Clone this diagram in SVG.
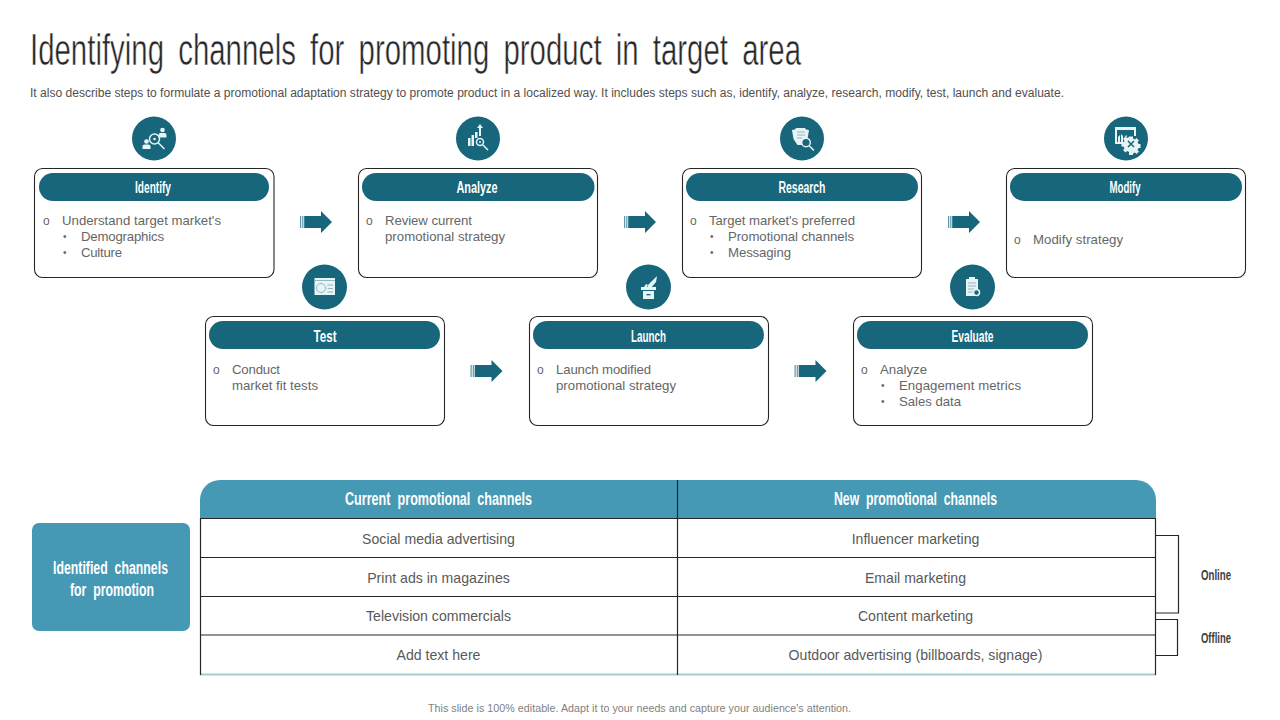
<svg xmlns="http://www.w3.org/2000/svg" width="1280" height="720" viewBox="0 0 1280 720">
<defs>
<style>
text{font-family:"Liberation Sans",Arial,sans-serif}
.title{font-size:44px;fill:#262626;word-spacing:9px;stroke:#fff;stroke-width:.55px;paint-order:normal}
.sub{font-size:12px;fill:#505050}
.foot{font-size:10.7px;fill:#7f7f7f}
.box{fill:#fff;stroke:#262626;stroke-width:1.100}
.pill{fill:#17667c}
.circ{fill:#17667c}
.h{font-size:16px;font-weight:700;fill:#fff;text-anchor:middle}
.b{font-size:13.200px;fill:#666}
.m{font-size:12px;fill:#666}
.d{font-size:10px;fill:#666}
.ic{fill:#e8f3f5}
.ics{fill:none;stroke:#e8f3f5;stroke-width:1.500}
.icd{stroke:#8fb8c4;stroke-width:1;fill:none}
.hd{font-size:18px;font-weight:700;fill:#fff;text-anchor:middle;word-spacing:5px}
.c{font-size:14.100px;fill:#595959;text-anchor:middle}
.ln{stroke:#262626;stroke-width:1.200;fill:none}
.side{font-size:14px;font-weight:700;fill:#404040;text-anchor:middle}
</style>
<g id="arrow">
<path d="M0 -6H1.200V6H0Z" fill="#5d97a8"/>
<path d="M2.200 -6H3.400V6H2.200Z" fill="#5d97a8"/>
<path d="M4.200 -6H21V-11L32 0L21 11V6H4.200Z" fill="#17667c"/>
</g>
</defs>
<rect width="1280" height="720" fill="#fff"/>
<text class="title" x="30" y="64.500" textLength="771" lengthAdjust="spacingAndGlyphs">Identifying channels for promoting product in target area</text>
<text class="sub" x="30" y="97" textLength="1034" lengthAdjust="spacingAndGlyphs">It also describe steps to formulate a promotional adaptation strategy to promote product in  a localized way. It includes steps such as, identify, analyze, research, modify, test, launch and evaluate.</text>

<g id="connectors">
<use href="#arrow" x="300" y="222"/>
<use href="#arrow" x="624" y="222"/>
<use href="#arrow" x="948" y="222"/>
<use href="#arrow" x="470.500" y="371"/>
<use href="#arrow" x="794.500" y="371"/>
<path class="ln" d="M1156 535.500H1178.500V613H1156"/>
<path class="ln" d="M1156 619.500H1177.500V655.500H1156"/>
</g>

<g id="identify">
<circle class="circ" cx="154" cy="138.500" r="22"/>
<circle class="ics" cx="154.500" cy="139" r="5"/>
<circle class="ic" cx="154.500" cy="139" r="1.300"/>
<path class="ics" stroke-width="2" d="M158 142.500L164.500 149"/>
<circle class="ic" cx="146.500" cy="141.500" r="2.300"/>
<path class="ic" d="M142.500 149v-2.500q0-2 2-2h4q2 0 2 2V149z"/>
<circle class="ic" cx="162.500" cy="130" r="2.300"/>
<path class="ic" d="M158.500 137.500V135q0-2 2-2h4q2 0 2 2v2.500z"/>
<rect class="box" x="34.500" y="168.500" width="239.500" height="109" rx="8"/>
<rect class="pill" x="39" y="173" width="230" height="28" rx="14"/>
<text class="h" x="153" y="193" textLength="36" lengthAdjust="spacingAndGlyphs">Identify</text>
<text class="m" x="43" y="225">o</text>
<text class="b" x="62" y="225" textLength="159" lengthAdjust="spacing">Understand target market's</text>
<text class="d" x="63" y="240">•</text>
<text class="b" x="81" y="241" textLength="83" lengthAdjust="spacing">Demographics</text>
<text class="d" x="63" y="256">•</text>
<text class="b" x="81" y="257" textLength="41" lengthAdjust="spacing">Culture</text>
</g>

<g id="analyze">
<circle class="circ" cx="478" cy="138.500" r="22"/>
<path class="ic" d="M468 138h2.500v8H468zM471.500 135h2.500v11h-2.500zM475 132h2.500v6H475z"/>
<path class="ic" d="M479 136v-8h-2l3-4 3 4h-2v8z"/>
<circle class="ics" cx="480" cy="142" r="3.500"/>
<circle class="ic" cx="480" cy="142" r="1"/>
<path class="ics" stroke-width="2" d="M483 145L488 150"/>
<rect class="box" x="358.500" y="168.500" width="239" height="109" rx="8"/>
<rect class="pill" x="362" y="173" width="232.500" height="28" rx="14"/>
<text class="h" x="477" y="193" textLength="41" lengthAdjust="spacingAndGlyphs">Analyze</text>
<text class="m" x="366" y="225">o</text>
<text class="b" x="385" y="225" textLength="87" lengthAdjust="spacing">Review current</text>
<text class="b" x="385" y="241" textLength="120" lengthAdjust="spacing">promotional strategy</text>
</g>

<g id="research">
<circle class="circ" cx="802" cy="138.500" r="22"/>
<path class="ic" d="M792 130l3-.500 1-1.500h9l1 1.500 3 .500-1.500 9-4 6h-6l-4-6z"/>
<path class="icd" d="M797 132H805M797 135H805M797 138H802"/>
<circle cx="806" cy="142.500" r="4.300" fill="#17667c" stroke="#e8f3f5" stroke-width="1.400"/>
<path class="ics" d="M809 145.500L814 150.500"/>
<rect class="box" x="682.500" y="168.500" width="239" height="109" rx="8"/>
<rect class="pill" x="686" y="173" width="232" height="28" rx="14"/>
<text class="h" x="802" y="193" textLength="47" lengthAdjust="spacingAndGlyphs">Research</text>
<text class="m" x="690" y="225">o</text>
<text class="b" x="709" y="225" textLength="146" lengthAdjust="spacing">Target market's preferred</text>
<text class="d" x="710" y="240">•</text>
<text class="b" x="728" y="241" textLength="126" lengthAdjust="spacing">Promotional channels</text>
<text class="d" x="710" y="256">•</text>
<text class="b" x="728" y="257" textLength="63" lengthAdjust="spacing">Messaging</text>
</g>

<g id="modify">
<circle class="circ" cx="1126" cy="138.500" r="22"/>
<path class="ic" d="M1115 127h21v9h-2v-6h-17v12h7v2h-9z"/>
<path class="ic" d="M1118 142v-5l2-2v7zM1121 142v-8l2 2v6zM1124 139l2-4 1 1-3 5z"/>
<path class="ic" d="M1129 136.500h4v2l2 1 1.500-1.500 2.500 2.500-1.500 1.500 1 2h2v4h-2l-1 2 1.500 1.500-2.500 2.500-1.500-1.500-2 1v1.500h-4V152l-2-1-1.500 1.500-2.500-2.500 1.500-1.500-1-2h-2v-4h2l1-2-1.500-1.500 2.500-2.500 1.500 1.500 2-1z"/>
<path d="M1128 141l6 6M1134 141l-6 6" stroke="#17667c" stroke-width="1.500"/>
<rect class="box" x="1006.500" y="168.500" width="239" height="109" rx="8"/>
<rect class="pill" x="1010" y="173" width="232" height="28" rx="14"/>
<text class="h" x="1125" y="193" textLength="31" lengthAdjust="spacingAndGlyphs">Modify</text>
<text class="m" x="1014" y="244">o</text>
<text class="b" x="1033" y="244" textLength="90" lengthAdjust="spacing">Modify strategy</text>
</g>

<g id="test">
<circle class="circ" cx="324.500" cy="287" r="22.500"/>
<rect class="ic" x="314.500" y="278" width="20.500" height="17"/>
<path class="icd" d="M314.500 280.500H335M327.500 285H333M327.500 288.500H333M327.500 292H333"/>
<circle class="icd" cx="321" cy="288" r="4.500"/>
<rect class="box" x="205.500" y="316.500" width="239" height="109" rx="8"/>
<rect class="pill" x="209" y="321" width="231" height="28" rx="14"/>
<text class="h" x="325" y="342" textLength="23" lengthAdjust="spacingAndGlyphs">Test</text>
<text class="m" x="213" y="374">o</text>
<text class="b" x="232" y="374" textLength="48" lengthAdjust="spacing">Conduct</text>
<text class="b" x="232" y="390" textLength="86" lengthAdjust="spacing">market fit tests</text>
</g>

<g id="launch">
<circle class="circ" cx="648.500" cy="287" r="22.500"/>
<path class="ic" d="M657 276l-1 6-5 6h-3v-3z"/>
<path class="ic" d="M646 284l2 1-1 2h9v3h-15v-3h3z"/>
<path class="ic" d="M643 291h11v8h-11z"/>
<rect x="646.500" y="294" width="4" height="1.300" fill="#17667c"/>
<rect class="box" x="529.500" y="316.500" width="239" height="109" rx="8"/>
<rect class="pill" x="533" y="321" width="231" height="28" rx="14"/>
<text class="h" x="648.500" y="342" textLength="35" lengthAdjust="spacingAndGlyphs">Launch</text>
<text class="m" x="537" y="374">o</text>
<text class="b" x="556" y="374" textLength="95" lengthAdjust="spacing">Launch modified</text>
<text class="b" x="556" y="390" textLength="120" lengthAdjust="spacing">promotional strategy</text>
</g>

<g id="evaluate">
<circle class="circ" cx="972.500" cy="287" r="22.500"/>
<path class="ic" d="M966 279h3v-2h6v2h3v17h-12z"/>
<path class="icd" d="M968 283H976M968 286H976M968 289H974M968 292H973"/>
<circle cx="976.500" cy="292.500" r="3" fill="#17667c" stroke="#e8f3f5" stroke-width="1.500"/>
<rect class="box" x="853.500" y="316.500" width="239" height="109" rx="8"/>
<rect class="pill" x="857" y="321" width="231" height="28" rx="14"/>
<text class="h" x="972.500" y="342" textLength="42" lengthAdjust="spacingAndGlyphs">Evaluate</text>
<text class="m" x="861" y="374">o</text>
<text class="b" x="880" y="374" textLength="47" lengthAdjust="spacing">Analyze</text>
<text class="d" x="881" y="389">•</text>
<text class="b" x="899" y="390" textLength="122" lengthAdjust="spacing">Engagement metrics</text>
<text class="d" x="881" y="405">•</text>
<text class="b" x="899" y="406" textLength="62" lengthAdjust="spacing">Sales data</text>
</g>

<g id="identified-channels">
<rect x="32" y="523" width="158" height="108" rx="7" fill="#4699b5"/>
<text class="hd" x="110.500" y="574" textLength="115" lengthAdjust="spacingAndGlyphs">Identified channels</text>
<text class="hd" x="112" y="596" textLength="84" lengthAdjust="spacingAndGlyphs">for promotion</text>
</g>

<g id="table">
<path d="M200 518.500V500a20 20 0 0 1 20-20H1136a20 20 0 0 1 20 20V518.500Z" fill="#4699b5"/>
<path d="M200 674.500H1156" stroke="#a9c9d6" stroke-width="2"/>
<path class="ln" d="M200 518.500H1156M200 557.500H1156M200 596.500H1156M200 635H1156M200.500 518V675M677.500 480V675M1155.500 518V675"/>
<text class="hd" x="438.500" y="505" textLength="187" lengthAdjust="spacingAndGlyphs">Current promotional channels</text>
<text class="hd" x="915.500" y="505" textLength="163" lengthAdjust="spacingAndGlyphs">New promotional channels</text>
<text class="c" x="438.500" y="544">Social media advertising</text>
<text class="c" x="915.500" y="544">Influencer marketing</text>
<text class="c" x="438.500" y="583">Print ads in magazines</text>
<text class="c" x="915.500" y="583">Email marketing</text>
<text class="c" x="438.500" y="621">Television commercials</text>
<text class="c" x="915.500" y="621">Content marketing</text>
<text class="c" x="438.500" y="660">Add text here</text>
<text class="c" x="915.500" y="660">Outdoor advertising (billboards, signage)</text>
</g>

<g id="labels">
<text class="side" x="1216" y="580" textLength="30" lengthAdjust="spacingAndGlyphs">Online</text>
<text class="side" x="1216" y="643" textLength="30" lengthAdjust="spacingAndGlyphs">Offline</text>
</g>
<text class="foot" x="428" y="712" textLength="423" lengthAdjust="spacing">This slide is 100% editable. Adapt it to your needs and capture your audience's attention.</text>
</svg>
